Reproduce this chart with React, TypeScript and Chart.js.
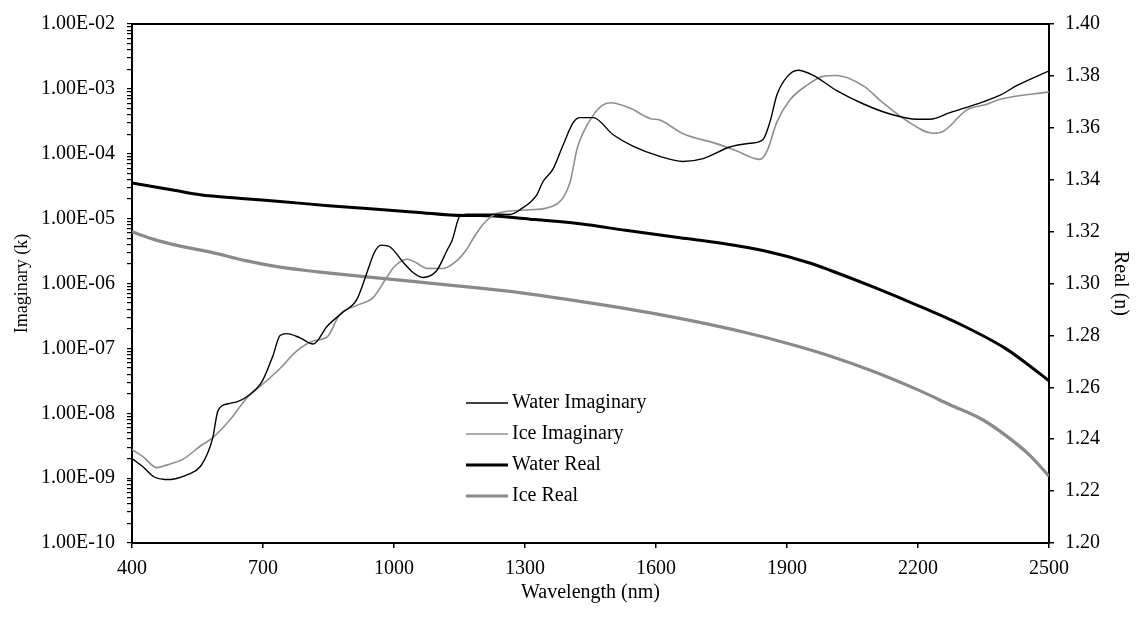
import React, { useEffect, useRef } from 'react';
import { Chart, registerables } from 'chart.js';

Chart.register(...registerables);

// ---------- data ----------
const WATER_IMAG_WL = [400, 425, 450, 475, 500, 530, 556, 575, 585, 597, 620, 640, 663, 698, 723, 739, 755, 785, 815, 847, 883, 915, 938, 955, 970, 991, 1021, 1045, 1066, 1098, 1121, 1133, 1151, 1167, 1200, 1266, 1289, 1327, 1341, 1364, 1387, 1410, 1426, 1456, 1502, 1547, 1609, 1662, 1708, 1769, 1815, 1845, 1861, 1877, 1900, 1925, 1960, 2014, 2074, 2136, 2198, 2227, 2273, 2349, 2388, 2427, 2500];
const WATER_IMAG_K = [2.0e-9, 1.5e-9, 1.05e-9, 9.5e-10, 9.8e-10, 1.15e-9, 1.5e-9, 2.6e-9, 4.2e-9, 1.1e-8, 1.4e-8, 1.5e-8, 1.8e-8, 3.1e-8, 7.8e-8, 1.58e-7, 1.69e-7, 1.45e-7, 1.17e-7, 2.2e-7, 3.6e-7, 5.7e-7, 1.47e-6, 3.0e-6, 3.9e-6, 3.65e-6, 2.13e-6, 1.45e-6, 1.24e-6, 1.59e-6, 3.2e-6, 4.6e-6, 1.1e-5, 1.17e-5, 1.17e-5, 1.16e-5, 1.38e-5, 2.33e-5, 3.7e-5, 5.8e-5, 1.35e-4, 3.0e-4, 3.6e-4, 3.6e-4, 1.96e-4, 1.31e-4, 9.1e-5, 7.6e-5, 8.4e-5, 1.27e-4, 1.45e-4, 1.66e-4, 3.1e-4, 8.1e-4, 1.53e-3, 1.94e-3, 1.62e-3, 9.4e-4, 5.9e-4, 4.1e-4, 3.4e-4, 3.4e-4, 4.3e-4, 6.3e-4, 8.0e-4, 1.13e-3, 1.9e-3];

const ICE_IMAG_WL = [400, 425, 457, 480, 517, 556, 585, 625, 663, 709, 739, 778, 815, 847, 876, 915, 952, 984, 1000, 1030, 1050, 1076, 1112, 1144, 1167, 1181, 1197, 1204, 1236, 1311, 1373, 1403, 1419, 1433, 1456, 1476, 1495, 1540, 1586, 1609, 1662, 1740, 1785, 1838, 1854, 1877, 1907, 1946, 1982, 2014, 2074, 2120, 2175, 2234, 2257, 2312, 2358, 2388, 2500];
const ICE_IMAG_K = [2.76e-9, 2.15e-9, 1.45e-9, 1.6e-9, 1.96e-9, 3.1e-9, 4.2e-9, 8.0e-9, 1.72e-8, 3.2e-8, 4.9e-8, 9.2e-8, 1.3e-7, 1.5e-7, 3.35e-7, 4.6e-7, 6.05e-7, 1.26e-6, 1.8e-6, 2.37e-6, 2.1e-6, 1.71e-6, 1.7e-6, 2.25e-6, 3.4e-6, 4.9e-6, 7.1e-6, 8.2e-6, 1.21e-5, 1.37e-5, 1.68e-5, 3.6e-5, 1.17e-4, 2.1e-4, 3.9e-4, 5.5e-4, 6.1e-4, 5.06e-4, 3.5e-4, 3.3e-4, 2.04e-4, 1.42e-4, 1.1e-4, 8.2e-5, 1.09e-4, 3.1e-4, 6.8e-4, 1.14e-3, 1.56e-3, 1.61e-3, 1.12e-3, 6.1e-4, 3.2e-4, 2.07e-4, 2.2e-4, 4.75e-4, 5.8e-4, 6.9e-4, 9.0e-4];

const WATER_REAL_WL = [400, 500, 556, 650, 739, 850, 968, 1050, 1158, 1197, 1311, 1426, 1530, 1655, 1750, 1850, 1950, 2000, 2100, 2200, 2300, 2400, 2450, 2500];
const WATER_REAL_N = [1.3387, 1.3358, 1.3342, 1.3328, 1.3316, 1.33, 1.3285, 1.3275, 1.3262, 1.3262, 1.3248, 1.323, 1.3205, 1.3176, 1.3155, 1.3125, 1.308, 1.305, 1.2985, 1.2915, 1.284, 1.275, 1.269, 1.2625];

const ICE_REAL_WL = [400, 450, 500, 585, 660, 739, 820, 892, 1043, 1197, 1300, 1400, 1500, 1600, 1700, 1800, 1900, 2000, 2100, 2200, 2273, 2349, 2406, 2456, 2500];
const ICE_REAL_N = [1.3199, 1.317, 1.3148, 1.3119, 1.3088, 1.3063, 1.3046, 1.3033, 1.3008, 1.2982, 1.2962, 1.2938, 1.2912, 1.2883, 1.285, 1.2813, 1.277, 1.272, 1.266, 1.259, 1.2533, 1.2474, 1.2408, 1.2338, 1.2258];

const X_TICKS = [400, 700, 1000, 1300, 1600, 1900, 2200, 2500];
const LEFT_DECADES = [-10, -9, -8, -7, -6, -5, -4, -3, -2];
const LEFT_TICK_LABELS = ['1.00E-10', '1.00E-09', '1.00E-08', '1.00E-07', '1.00E-06', '1.00E-05', '1.00E-04', '1.00E-03', '1.00E-02'];
const RIGHT_TICKS = [1.2, 1.22, 1.24, 1.26, 1.28, 1.3, 1.32, 1.34, 1.36, 1.38, 1.4];
const RIGHT_TICK_LABELS = ['1.20', '1.22', '1.24', '1.26', '1.28', '1.30', '1.32', '1.34', '1.36', '1.38', '1.40'];
const SERIES_NAMES = ['Water Imaginary', 'Ice Imaginary', 'Water Real', 'Ice Real'];

const FAMILY = '"Liberation Serif", "Times New Roman", serif';

const toPoints = (xs: number[], ys: number[]) => xs.map((x, i) => ({ x, y: ys[i] }));

const legendPlugin = {
  id: 'insideLegend',
  afterDraw(chart: any) {
    const { ctx, chartArea } = chart;
    const x0 = chartArea.left + 334;
    const x1 = x0 + 42;
    const tx = x1 + 4;
    const y0 = 403;
    const step = 31;
    ctx.save();
    chart.data.datasets.forEach((ds: any, i: number) => {
      const y = y0 + i * step;
      ctx.beginPath();
      ctx.strokeStyle = ds.borderColor;
      ctx.lineWidth = ds.borderWidth;
      ctx.moveTo(x0, y);
      ctx.lineTo(x1, y);
      ctx.stroke();
      ctx.fillStyle = '#000';
      ctx.font = `20px ${FAMILY}`;
      ctx.textBaseline = 'middle';
      ctx.textAlign = 'left';
      ctx.fillText(ds.label, tx, y);
    });
    // top frame line
    ctx.beginPath();
    ctx.strokeStyle = '#000';
    ctx.lineWidth = 2;
    ctx.moveTo(chartArea.left, chartArea.top);
    ctx.lineTo(chartArea.right, chartArea.top);
    ctx.stroke();
    ctx.restore();
  },
};

export default function App() {
  const ref = useRef<HTMLCanvasElement | null>(null);

  useEffect(() => {
    if (!ref.current) return;
    const logTickValues: number[] = [];
    const logTickLabel = new Map<number, string>();
    LEFT_DECADES.forEach((e, di) => {
      const maxM = di === LEFT_DECADES.length - 1 ? 1 : 9;
      for (let m = 1; m <= maxM; m++) {
        const v = Number(`${m}e${e}`);
        logTickValues.push(v);
        logTickLabel.set(v, m === 1 ? LEFT_TICK_LABELS[di] : '');
      }
    });

    const tickFont = { family: FAMILY, size: 20 };

    const chart = new Chart(ref.current, {
      type: 'line',
      data: {
        datasets: [
          { label: SERIES_NAMES[0], data: toPoints(WATER_IMAG_WL, WATER_IMAG_K), yAxisID: 'y', borderColor: '#000000', borderWidth: 1.4, pointRadius: 0, cubicInterpolationMode: 'monotone', fill: false },
          { label: SERIES_NAMES[1], data: toPoints(ICE_IMAG_WL, ICE_IMAG_K), yAxisID: 'y', borderColor: '#8f8f8f', borderWidth: 1.6, pointRadius: 0, cubicInterpolationMode: 'monotone', fill: false },
          { label: SERIES_NAMES[2], data: toPoints(WATER_REAL_WL, WATER_REAL_N), yAxisID: 'y2', borderColor: '#000000', borderWidth: 3, pointRadius: 0, cubicInterpolationMode: 'monotone', fill: false },
          { label: SERIES_NAMES[3], data: toPoints(ICE_REAL_WL, ICE_REAL_N), yAxisID: 'y2', borderColor: '#8a8a8a', borderWidth: 3.2, pointRadius: 0, cubicInterpolationMode: 'monotone', fill: false },
        ] as any,
      },
      options: {
        animation: false,
        responsive: false,
        maintainAspectRatio: false,
        devicePixelRatio: 1,
        layout: { padding: { top: 20, left: 0, right: 0, bottom: 0 } },
        plugins: { legend: { display: false }, tooltip: { enabled: false } },
        scales: {
          x: {
            type: 'linear',
            min: 400,
            max: 2500,
            afterBuildTicks: (s: any) => { s.ticks = X_TICKS.map((v) => ({ value: v })); },
            afterFit: (s: any) => { s.height = 79; },
            ticks: { callback: (v: any) => String(v), font: tickFont, color: '#000', padding: 9, autoSkip: false, maxRotation: 0 },
            grid: { drawOnChartArea: false, tickLength: 5, color: '#000', tickColor: '#000', lineWidth: 1.5 },
            border: { display: true, color: '#000', width: 2 },
            title: { display: true, text: 'Wavelength (nm)', font: { family: FAMILY, size: 20 }, color: '#000', padding: { top: 0, bottom: 17 } },
          },
          y: {
            type: 'logarithmic',
            position: 'left',
            min: 1e-10,
            max: 1e-2,
            afterBuildTicks: (s: any) => { s.ticks = logTickValues.map((v) => ({ value: v })); },
            afterFit: (s: any) => { s.width = 132; },
            ticks: { callback: (v: any) => logTickLabel.get(Number(v)) ?? '', font: tickFont, color: '#000', padding: 12, autoSkip: false },
            grid: { drawOnChartArea: false, tickLength: 5, color: '#000', tickColor: '#000', lineWidth: 1.2 },
            border: { display: true, color: '#000', width: 2 },
            title: { display: true, text: 'Imaginary (k)', font: { family: FAMILY, size: 18 }, color: '#000', padding: { top: 11, bottom: 0 } },
          },
          y2: {
            type: 'linear',
            position: 'right',
            min: 1.2,
            max: 1.4,
            afterBuildTicks: (s: any) => { s.ticks = RIGHT_TICKS.map((v) => ({ value: v })); },
            afterFit: (s: any) => { s.width = 87; },
            ticks: { callback: (_v: any, i: number) => RIGHT_TICK_LABELS[i], font: tickFont, color: '#000', padding: 11, autoSkip: false },
            grid: { drawOnChartArea: false, tickLength: 5, color: '#000', tickColor: '#000', lineWidth: 1.5 },
            border: { display: true, color: '#000', width: 2 },
            title: { display: true, text: 'Real (n)', font: { family: FAMILY, size: 20 }, color: '#000', padding: { top: 4, bottom: 0 } },
          },
        } as any,
      },
      plugins: [legendPlugin],
    } as any);

    return () => chart.destroy();
  }, []);

  return (
    <div style={{ position: 'fixed', left: 0, top: 0, width: 1136, height: 622, background: '#fff' }}>
      <canvas ref={ref} width={1136} height={622} style={{ display: 'block' }} />
    </div>
  );
}
